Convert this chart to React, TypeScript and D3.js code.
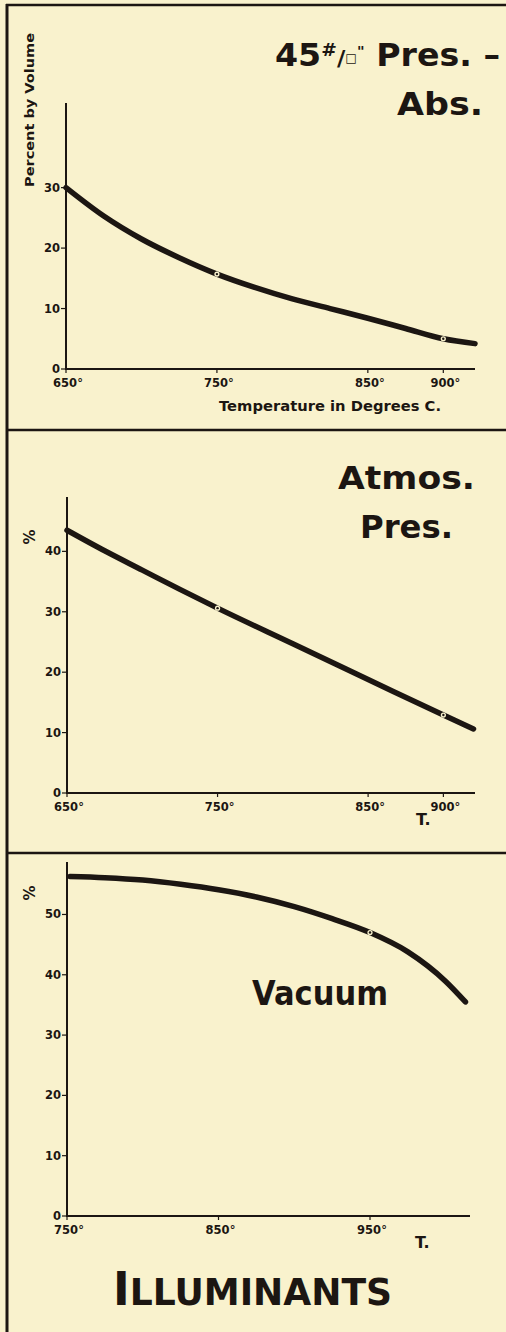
import React from 'react';
import * as d3 from 'd3';

// readings taken off the three plates
const absTemps = [650, 675, 700, 725, 750, 775, 800, 825, 850, 875, 900, 921];
const absPct = [30, 25.3, 21.5, 18.4, 15.7, 13.5, 11.6, 10.0, 8.4, 6.7, 5.0, 4.2];
const absXTicks = [650, 750, 850, 900];
const absYTicks = [0, 10, 20, 30];
const absBreaks = [750, 900];

const atmTemps = [650, 675, 700, 725, 750, 800, 850, 900, 920];
const atmPct = [43.5, 40.1, 36.9, 33.7, 30.6, 24.7, 18.8, 12.9, 10.6];
const atmXTicks = [650, 750, 850, 900];
const atmYTicks = [0, 10, 20, 30, 40];
const atmBreaks = [750, 900];

const vacTemps = [752, 775, 800, 825, 850, 875, 900, 925, 950, 975, 1000, 1013];
const vacPct = [56.3, 56.1, 55.7, 55.0, 54.1, 52.9, 51.3, 49.3, 47.0, 43.8, 38.9, 35.5];
const vacXTicks = [750, 850, 950];
const vacYTicks = [0, 10, 20, 30, 40, 50];
const vacBreaks = [950];

const W = 506;
const H = 1332;
const BG = '#f9f2cd';
const INK = '#1c1612';
const FONT = '"DejaVu Sans", sans-serif';

interface PanelProps {
  temps: number[];
  pct: number[];
  xTicks: number[];
  yTicks: number[];
  breaks: number[];
  xDomain: [number, number];
  xRange: [number, number];
  yDomain: [number, number];
  yRange: [number, number];
}

const Panel: React.FC<PanelProps> = ({ temps, pct, xTicks, yTicks, breaks, xDomain, xRange, yDomain, yRange }) => {
  const x = d3.scaleLinear().domain(xDomain).range(xRange);
  const y = d3.scaleLinear().domain(yDomain).range(yRange);
  const pts = temps.map((t, i) => [t, pct[i]] as [number, number]);
  const line = d3.line<[number, number]>()
    .x(d => x(d[0]))
    .y(d => y(d[1]))
    .curve(d3.curveMonotoneX);
  const interp = (t: number) => {
    // value at temperature t from the readings
    const i = d3.bisectLeft(temps, t);
    if (temps[i] === t) return pct[i];
    const a = Math.max(0, i - 1);
    const f = (t - temps[a]) / (temps[i] - temps[a]);
    return pct[a] + f * (pct[i] - pct[a]);
  };
  const x0 = xRange[0];
  const y0 = y(0);
  return (
    <g>
      {/* axes */}
      <line x1={x0} x2={x0} y1={yRange[1]} y2={y0 + 1} stroke={INK} strokeWidth={2} />
      <line x1={x0} x2={xRange[1]} y1={y0} y2={y0} stroke={INK} strokeWidth={2.2} />
      {yTicks.map(v => (
        <g key={'y' + v}>
          <line x1={x0 - 5} x2={x0} y1={y(v)} y2={y(v)} stroke={INK} strokeWidth={1.2} />
          <text x={x0 - 6} y={y(v) + 4} textAnchor="end" fontSize={11.5} fontWeight="bold" fontFamily={FONT} fill={INK}>{v}</text>
        </g>
      ))}
      {xTicks.map(t => (
        <g key={'x' + t}>
          <line x1={x(t)} x2={x(t)} y1={y0} y2={y0 + 4} stroke={INK} strokeWidth={1.2} />
          <text x={x(t) + 2} y={y0 + 18} textAnchor="middle" fontSize={11.5} fontWeight="bold" fontFamily={FONT} fill={INK}>{t}°</text>
        </g>
      ))}
      <path d={line(pts) || ''} fill="none" stroke={INK} strokeWidth={5.5} strokeLinecap="round" />
      {breaks.map(t => (
        <g key={'b' + t}>
          <circle cx={x(t)} cy={y(interp(t))} r={2.6} fill={BG} />
          <circle cx={x(t)} cy={y(interp(t))} r={1.2} fill={INK} />
        </g>
      ))}
    </g>
  );
};

const App: React.FC = () => {
  const big = { fontFamily: FONT, fontWeight: 'bold' as const, fill: INK };
  return (
    <svg width={W} height={H} style={{ position: 'absolute', left: 0, top: 0, display: 'block' }}>
      <rect x={0} y={0} width={W} height={H} fill={BG} />

      {/* frame and panel dividers */}
      <line x1={7} x2={7} y1={4} y2={H} stroke={INK} strokeWidth={3} />
      <line x1={6} x2={W} y1={5} y2={5} stroke={INK} strokeWidth={2.5} />
      <line x1={6} x2={W} y1={430} y2={430} stroke={INK} strokeWidth={2.5} />
      <line x1={6} x2={W} y1={853} y2={853} stroke={INK} strokeWidth={2.5} />

      {/* 45 lb pressure */}
      <Panel temps={absTemps} pct={absPct} xTicks={absXTicks} yTicks={absYTicks} breaks={absBreaks}
        xDomain={[650, 921]} xRange={[66, 475]} yDomain={[0, 44]} yRange={[369, 103]} />
      <text {...big} x={275} y={66} fontSize={32} textLength={225} lengthAdjust="spacingAndGlyphs">
        45<tspan fontSize={18} dy={-10}>#</tspan><tspan fontSize={22} dy={10}>/</tspan><tspan fontSize={12} dy={-4}>□</tspan><tspan fontSize={14} dy={-6}>"</tspan><tspan dy={10}> Pres. –</tspan>
      </text>
      <text {...big} x={397} y={115} fontSize={32} textLength={86} lengthAdjust="spacingAndGlyphs">Abs.</text>
      <text {...big} x={330} y={411} fontSize={14} textAnchor="middle" textLength={222} lengthAdjust="spacingAndGlyphs">Temperature in Degrees C.</text>
      <text {...big} transform="translate(34,110) rotate(-90)" fontSize={13} textAnchor="middle" textLength={154} lengthAdjust="spacingAndGlyphs">Percent by Volume</text>

      {/* atmospheric pressure */}
      <Panel temps={atmTemps} pct={atmPct} xTicks={atmXTicks} yTicks={atmYTicks} breaks={atmBreaks}
        xDomain={[650, 921]} xRange={[67, 475]} yDomain={[0, 49]} yRange={[793, 497]} />
      <text {...big} x={338} y={489} fontSize={32} textLength={137} lengthAdjust="spacingAndGlyphs">Atmos.</text>
      <text {...big} x={360} y={538} fontSize={32} textLength={93} lengthAdjust="spacingAndGlyphs">Pres.</text>
      <text {...big} transform="translate(35,537) rotate(-90)" fontSize={15} textAnchor="middle">%</text>
      <text {...big} x={416} y={825} fontSize={16}>T.</text>

      {/* vacuum */}
      <Panel temps={vacTemps} pct={vacPct} xTicks={vacXTicks} yTicks={vacYTicks} breaks={vacBreaks}
        xDomain={[750, 1016]} xRange={[67, 470]} yDomain={[0, 58.7]} yRange={[1216, 862]} />
      <text {...big} x={252} y={1005} fontSize={34} textLength={136} lengthAdjust="spacingAndGlyphs">Vacuum</text>
      <text {...big} transform="translate(35,893) rotate(-90)" fontSize={15} textAnchor="middle">%</text>
      <text {...big} x={415} y={1248} fontSize={16}>T.</text>

      <text {...big} x={113} y={1305} fontSize={46} textLength={279} lengthAdjust="spacingAndGlyphs">
        I<tspan fontSize={37}>LLUMINANTS</tspan>
      </text>
    </svg>
  );
};

export default App;
